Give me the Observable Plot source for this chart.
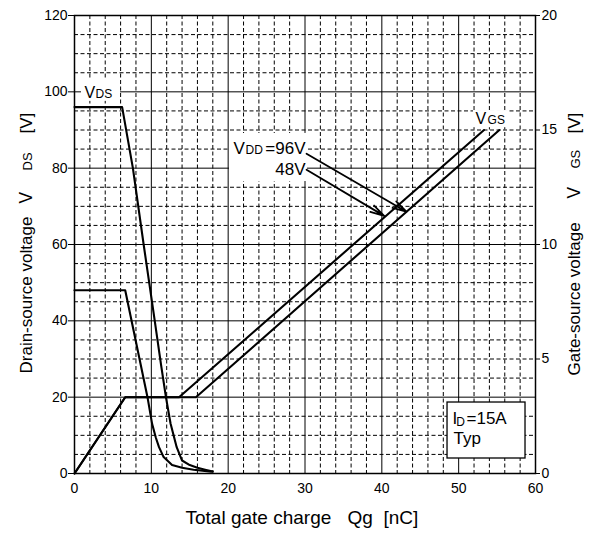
<!DOCTYPE html>
<html><head><meta charset="utf-8">
<script src="https://cdn.jsdelivr.net/npm/d3@7"></script>
<script src="https://cdn.jsdelivr.net/npm/@observablehq/plot@0.6"></script>
<style>body{margin:0;background:#fff} svg{display:block}</style>
</head><body><div id="chart"></div>
<script>
// ---- data ----
const qgVds96 = [0, 6.2, 7.6, 9.0, 10.3, 11.3, 11.9, 12.5, 13.3, 14.0, 15.0, 16.0, 17.0, 18.0];
const vds96   = [96, 96, 80, 60, 42, 28, 20, 13.1, 6.9, 3.4, 2.2, 1.5, 1.0, 0.5];
const qgVds48 = [0, 6.6, 9.5, 10.1, 10.6, 11.0, 11.6, 12.7, 14.0, 15.5, 17.8];
const vds48   = [48, 48, 20, 13, 9.3, 6.9, 4.3, 2.2, 1.5, 1.0, 0.5];
const qgVgs96 = [0, 6.6, 15.8, 55.3];
const vgs96   = [0, 3.33, 3.33, 15];
const qgVgs48 = [0, 6.6, 13.6, 53.3];
const vgs48   = [0, 3.33, 3.33, 15];
const vgsToVds = 6; // right axis 0–20 V maps onto left axis 0–120 V

// ticks and grid
const xTicks = [0, 10, 20, 30, 40, 50, 60];
const yTicks = [0, 20, 40, 60, 80, 100, 120];
const vgsTicks = [0, 5, 10, 15, 20];
const xMajor = [10, 20, 30, 40, 50];
const yMajor = [20, 40, 60, 80, 100];
const xMinor = [2,4,6,8,12,14,16,18,22,24,26,28,32,34,36,38,42,44,46,48,52,54,56,58];
const yMinor = [5,10,15,25,30,35,45,50,55,65,70,75,85,90,95,105,110,115];

// arrows (VDD = 96 V, 48 V)
const arrowQ1 = [30.2, 30.2], arrowV1 = [83.8, 79.6];
const arrowQ2 = [43.2, 40.3], arrowV2 = [68.6, 67.5];

// annotation texts
const labelText = ["V", "DS", "V", "DD", "V", "GS", "I", "D", "=15A", "Typ"];
const labelQ    = [1.30, 2.73, 20.70, 22.26, 52.19, 53.76, 49.2, 49.70, 51.02, 49.33];
const labelV    = [98.5, 98.5, 83.8, 83.8, 91.6, 91.6, 13.1, 12.4, 13.1, 7.6];
const labelSize = [16, 12, 17, 12, 16, 12, 17, 12, 17, 17];
const endText = ["=96V", "48V"];
const endQ = [30.07, 30.07], endV = [83.8, 78.1];

// white backgrounds behind labels, and the condition box
const bgQ1 = [0.91, 20.17, 51.93], bgQ2 = [5.99, 30.33, 56.62];
const bgV1 = [97.5, 76.5, 90.6],  bgV2 = [103.2, 89.1, 95.1];
const boxQ = [48.55, 58.7], boxV = [3.93, 18.6];

// axis titles
const xTitle = [["Total gate charge", 111, 19], ["Qg", 273, 19], ["[nC]", 309, 19]];
const leftTitle = [["Drain\u2010source voltage", 129, 17], ["V", -41, 17.5], ["DS", -74, 13], ["[V]", -111, 17]];
const rightTitle = [["Gate\u2010source voltage", 131, 17], ["V", -46, 17.5], ["GS", -76, 13], ["[V]", -111, 17]];

// ---- tables ----
const zip = (a, b) => a.map((q, i) => ({q, v: b[i]}));
const d96 = zip(qgVds96, vds96), d48 = zip(qgVds48, vds48);
const g96 = zip(qgVgs96, vgs96), g48 = zip(qgVgs48, vgs48);
const arrows = arrowQ1.map((q, i) => ({x1: q, y1: arrowV1[i], x2: arrowQ2[i], y2: arrowV2[i]}));
const labels = labelText.map((t, i) => ({t, x: labelQ[i], y: labelV[i], s: labelSize[i]}));
const endLabels = endText.map((t, i) => ({t, x: endQ[i], y: endV[i]}));
const bgs = bgQ1.map((q, i) => ({x1: q, x2: bgQ2[i], y1: bgV1[i], y2: bgV2[i]}));
const box = [{x1: boxQ[0], x2: boxQ[1], y1: boxV[0], y2: boxV[1]}];

const font = "'Liberation Sans', Arial, sans-serif";
const curve = {x: "q", y: "v", stroke: "#000", strokeWidth: 2.1};
const gcurve = {x: "q", y: d => d.v * vgsToVds, stroke: "#000", strokeWidth: 2.1};

const plot = Plot.plot({
  width: 595, height: 534,
  marginLeft: 74, marginRight: 60, marginTop: 15, marginBottom: 61,
  style: {fontFamily: font, fontSize: "14px", color: "#000", background: "#fff"},
  x: {domain: [0, 60]},
  y: {domain: [0, 120]},
  marks: [
    Plot.ruleX(xMinor, {stroke: "#000", strokeWidth: 1, strokeDasharray: "4,2.5"}),
    Plot.ruleY(yMinor, {stroke: "#000", strokeWidth: 1, strokeDasharray: "4,2.5"}),
    Plot.ruleX(xMajor, {stroke: "#000", strokeWidth: 1}),
    Plot.ruleY(yMajor, {stroke: "#000", strokeWidth: 1}),
    Plot.rect(bgs, {x1: "x1", x2: "x2", y1: "y1", y2: "y2", fill: "#fff"}),
    Plot.rect(box, {x1: "x1", x2: "x2", y1: "y1", y2: "y2", fill: "#fff", stroke: "#000", strokeWidth: 1.3}),
    Plot.frame({stroke: "#000", strokeWidth: 1.5}),
    Plot.axisX({ticks: xTicks, tickSize: 0, tickPadding: 10, label: null, tickFormat: d => String(d)}),
    Plot.axisY({ticks: yTicks, tickSize: 6, tickPadding: 1, label: null, tickFormat: d => String(d)}),
    Plot.axisY({anchor: "right", ticks: vgsTicks.map(v => v * vgsToVds), tickFormat: d => String(d / vgsToVds), tickSize: 4, tickPadding: 2, label: null}),
    Plot.line(d96, curve),
    Plot.line(d48, curve),
    Plot.line(g96, gcurve),
    Plot.line(g48, gcurve),
    Plot.arrow(arrows, {x1: "x1", y1: "y1", x2: "x2", y2: "y2", stroke: "#000", strokeWidth: 1.8, headLength: 12, headAngle: 30}),
    Plot.text(labels, {x: "x", y: "y", text: "t", fontSize: d => d.s, textAnchor: "start", lineAnchor: "bottom", fill: "#000"}),
    Plot.text(endLabels, {x: "x", y: "y", text: "t", fontSize: 17, textAnchor: "end", lineAnchor: "bottom", fill: "#000"}),
    ...xTitle.map(([t, dx, s]) => Plot.text([t], {frameAnchor: "bottom-left", textAnchor: "start", lineAnchor: "bottom", dx, dy: 50, fontSize: s, fill: "#000"})),
    ...leftTitle.map(([t, dy, s]) => Plot.text([t], {frameAnchor: "left", rotate: -90, textAnchor: "start", lineAnchor: "bottom", dx: -43, dy, fontSize: s, fill: "#000"})),
    ...rightTitle.map(([t, dy, s]) => Plot.text([t], {frameAnchor: "right", rotate: -90, textAnchor: "start", lineAnchor: "bottom", dx: 44, dy, fontSize: s, fill: "#000"}))
  ]
});
document.getElementById("chart").appendChild(plot);
</script>
</body></html>
